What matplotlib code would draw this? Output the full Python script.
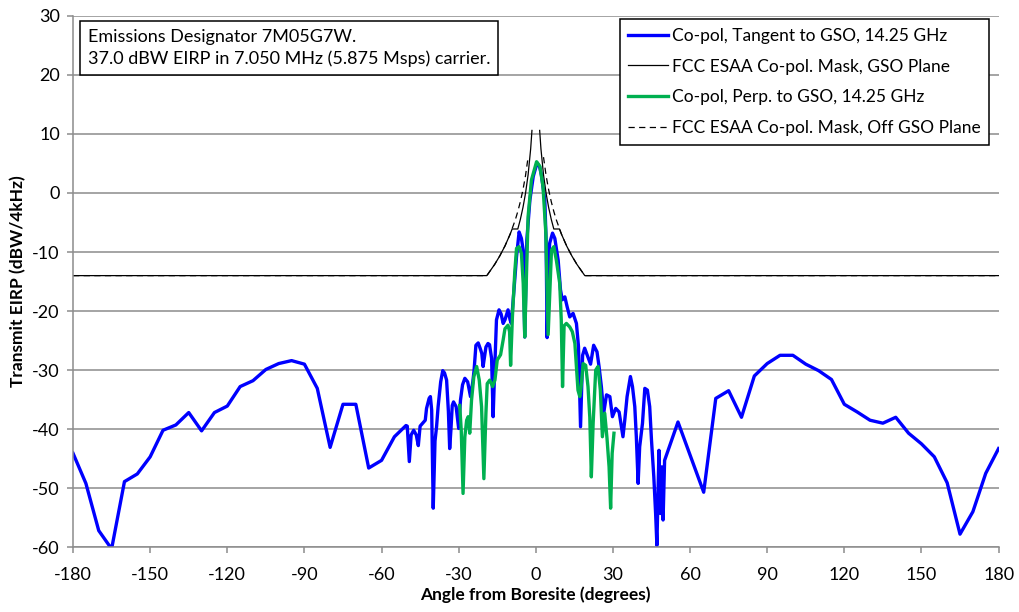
import numpy as np
import matplotlib.pyplot as plt

plt.rcParams['font.family'] = ['Lato', 'DejaVu Sans']
plt.rcParams['axes.unicode_minus'] = False

# Co-pol, tangent to GSO (blue)
tan_angle = [-180, -175, -170, -165, -160, -155, -150, -145, -140, -135, -130, -125,
             -120, -115, -110, -105, -100, -95, -90, -85, -80, -75, -70, -65, -60,
             -55, -50.5, -50, -49.2, -48.5, -47.5, -46.5, -45.7, -45, -44, -43,
             -42.5, -41.5, -41, -40.5, -39.9, -39.2, -38.6, -38, -37, -36.2, -35.5,
             -34.7, -34, -33.5, -33, -32.5, -32, -31, -30, -29.3, -28.5, -27.6,
             -26.5, -25.4, -24.5, -24, -23.3, -22.4, -21.5, -21, -20.5, -19.4,
             -18.6, -18, -17.2, -16.6, -16, -15.3, -14.3, -13.5, -12.7, -12, -10.8,
             -10, -9.5, -8.6, -7.5, -6.5, -5.6, -4.9, -4.3, -3.5, -2.3, -1.0, 0.5,
             1.5, 2.2, 3.5, 4.0, 4.4, 5.0, 5.4, 6.5, 7.4, 8.7, 9.6, 10.3, 11.3, 12.2,
             13.2, 14.5, 15.8, 16.6, 17.4, 18.2, 19.0, 20.3, 21.3, 22.5, 23.8, 24.6,
             25.5, 26.4, 27.5, 28.8, 29.8, 31.1, 32.4, 33.3, 33.9, 34.6, 35.5, 36.8,
             37.6, 38.5, 39.1, 39.8, 40.4, 41.5, 42.4, 43.4, 44.3, 45.0, 45.9, 46.6,
             47.1, 47.9, 48.5, 49.0, 49.5, 50.1, 55.3, 65.3, 70, 75, 80, 85, 90, 95,
             100, 105, 110, 115, 120, 125, 130, 135, 140, 145, 150, 155, 160, 165,
             170, 175, 180]
tan_eirp = [-44.1, -49.2, -57.2, -60.3, -48.9, -47.6, -44.7, -40.2, -39.3, -37.2, -40.3, -37.2,
            -36.1, -32.8, -31.8, -29.9, -28.9, -28.4, -29.0, -33.1, -43.1, -35.8, -35.8, -46.6, -45.3,
            -41.3, -39.4, -39.5, -45.5, -41.0, -40.2, -41.0, -42.8, -39.5, -39.0, -38.5,
            -36.5, -34.8, -34.5, -36.8, -53.4, -42.0, -39.6, -36.2, -32.0, -30.1, -30.5,
            -31.7, -37.0, -43.3, -40.0, -36.0, -35.4, -36.2, -39.9, -35.1, -32.5, -31.4,
            -32.0, -34.5, -32.0, -30.0, -25.8, -25.4, -26.5, -27.2, -29.4, -26.1,
            -25.5, -25.7, -28.0, -37.9, -30.0, -21.5, -19.8, -20.5, -22.1, -21.5, -19.8,
            -21.5, -22.1, -17.0, -10.8, -6.6, -7.7, -9.7, -24.4, -8.0, -1.2, 2.8, 5.1,
            4.4, 3.0, -1.2, -8.0, -24.5, -11.0, -8.5, -6.8, -7.7, -11.4, -16.4, -18.1, -17.6, -19.3,
            -21.0, -20.4, -22.1, -26.0, -39.6, -27.5, -26.3, -27.8, -29.0, -25.8, -26.9, -29.4,
            -32.8, -37.3, -34.2, -34.5, -37.9, -36.5, -37.1, -39.6, -41.3, -38.5, -34.5, -31.1,
            -32.8, -36.2, -41.3, -49.2, -43.0, -39.0, -33.1, -33.4, -36.2, -41.9, -48.1, -54.3,
            -59.7, -43.6, -54.3, -46.4, -55.4, -45.3, -38.8, -50.7, -34.8, -33.5, -38.0, -31.0, -28.9, -27.5,
            -27.5, -29.0, -30.1, -31.6, -35.8, -37.1, -38.5, -39.0, -38.0, -40.7, -42.5, -44.7, -49.1, -57.8,
            -54.0, -47.5, -43.3]

# Co-pol, perpendicular to GSO (green)
perp_angle = [-29.6, -29.0, -28.3, -27.6, -26.9, -26.3, -25.7, -25.0, -24.1, -23.0, -22.0,
              -21.1, -20.2, -19.4, -18.9, -17.9, -16.8, -15.9, -15.0, -13.7, -12.7, -12.0,
              -10.8, -10.2, -9.8, -9.1, -8.2, -7.5, -6.5, -5.6, -4.9, -4.3, -3.0, -1.7,
              0.3, 1.6, 2.8, 3.9, 4.8, 6.1, 7.0, 8.0, 9.3, 9.9, 10.4, 11.0, 11.9, 13.2,
              14.2, 15.2, 16.4, 17.1, 17.6, 18.4, 19.4, 20.3, 21.0, 21.6, 22.3, 23.3,
              24.2, 25.1, 25.9, 26.8, 27.7, 28.5, 29.1, 29.7, 30.4]
perp_eirp = [-36.0, -40.2, -50.9, -41.3, -38.5, -37.9, -40.7, -35.1, -31.1, -29.4, -31.7,
             -36.2, -48.4, -37.3, -32.3, -31.7, -32.8, -31.7, -28.3, -27.4, -24.9, -23.0,
             -22.4, -23.5, -29.2, -21.0, -13.5, -9.4, -9.1, -10.2, -15.3, -24.4, -4.0, 2.2,
             5.3, 4.5, 1.1, -6.8, -24.0, -9.7, -9.1, -11.4, -15.3, -21.5, -32.8, -22.5, -22.1, -22.7,
             -23.5, -25.5, -33.4, -34.5, -33.0, -28.9, -29.2, -32.8, -38.0, -48.1, -39.0, -30.0,
             -29.4, -33.4, -41.3, -37.3, -41.6, -46.4, -53.4, -44.1, -40.7]

# FCC ESAA co-pol mask, GSO plane (solid black)
gso_angle = [-180, -19.05, -16, -14, -12, -10, -9.2, -7, -6, -5, -4, -3, -2, -1.5,
             np.nan, 1.5, 2, 3, 4, 5, 6, 7, 9.2, 10, 12, 14, 16, 19.05, 180]
gso_mask = [-14, -14, -12.1, -10.65, -8.98, -7.0, -6.1, -6.1, -4.45, -2.47, -0.05, 3.07, 7.47, 10.6,
            np.nan, 10.6, 7.47, 3.07, -0.05, -2.47, -4.45, -6.1, -6.1, -7.0, -8.98, -10.65, -12.1, -14, -14]

# FCC ESAA co-pol mask, off GSO plane (dashed black)
off_angle = [-180, -19.05, -16, -14, -12, -10, -8, -7, -6, -5, -4, -3,
             np.nan, 3, 4, 5, 6, 7, 8, 10, 12, 14, 16, 19.05, 180]
off_mask = [-14, -14, -12.1, -10.65, -8.98, -7.0, -4.58, -3.13, -1.45, 0.53, 2.95, 6.07,
            np.nan, 6.07, 2.95, 0.53, -1.45, -3.13, -4.58, -7.0, -8.98, -10.65, -12.1, -14, -14]

fig = plt.figure(figsize=(10.2, 6.12), dpi=100)
ax = fig.add_axes([0.0716, 0.106, 0.9074, 0.868])

ax.plot(tan_angle, tan_eirp, color='#0000FF', lw=2.4, label='Co-pol, Tangent to GSO, 14.25 GHz')
ax.plot(gso_angle, gso_mask, color='black', lw=0.9, label='FCC ESAA Co-pol. Mask, GSO Plane')
ax.plot(perp_angle, perp_eirp, color='#00B050', lw=2.4, label='Co-pol, Perp. to GSO, 14.25 GHz')
ax.plot(off_angle, off_mask, color='black', lw=0.9, ls=(0, (5, 3.5)),
        label='FCC ESAA Co-pol. Mask, Off GSO Plane')

ax.set_xlim(-180, 180)
ax.set_ylim(-60, 30)
ax.set_xticks(np.arange(-180, 181, 30))
ax.set_yticks(np.arange(-60, 31, 10))
ax.grid(axis='y', color='#8c8c8c', lw=1.1)
ax.set_axisbelow(True)
for s in ['top', 'right']:
    ax.spines[s].set_visible(False)
for s in ['left', 'bottom']:
    ax.spines[s].set_color('#8c8c8c')
    ax.spines[s].set_linewidth(1.1)
ax.tick_params(direction='out', length=4.5, width=1.1, color='#8c8c8c', labelsize=13)
ax.tick_params(axis='x', pad=10)
ax.tick_params(axis='y', pad=5)

ax.set_xlabel('Angle from Boresite (degrees)', fontsize=12.5, fontweight='bold', labelpad=2)
ax.set_ylabel('Transmit EIRP (dBW/4kHz)', fontsize=12.5, fontweight='bold', labelpad=4)

ax.text(0.016, 0.976, 'Emissions Designator 7M05G7W.\n37.0 dBW EIRP in 7.050 MHz (5.875 Msps) carrier.',
        transform=ax.transAxes, va='top', ha='left', fontsize=13, linespacing=1.4,
        bbox=dict(boxstyle='square,pad=0.45', fc='white', ec='black', lw=1.1))

leg = ax.legend(loc='upper right', bbox_to_anchor=(0.990, 0.994), borderaxespad=0,
                fontsize=12.5, frameon=True, fancybox=False, edgecolor='black', framealpha=1,
                handlelength=2.3, handletextpad=0.2, labelspacing=0.85, borderpad=0.5)
leg.get_frame().set_linewidth(1.1)

fig.savefig('out.png', dpi=100)
